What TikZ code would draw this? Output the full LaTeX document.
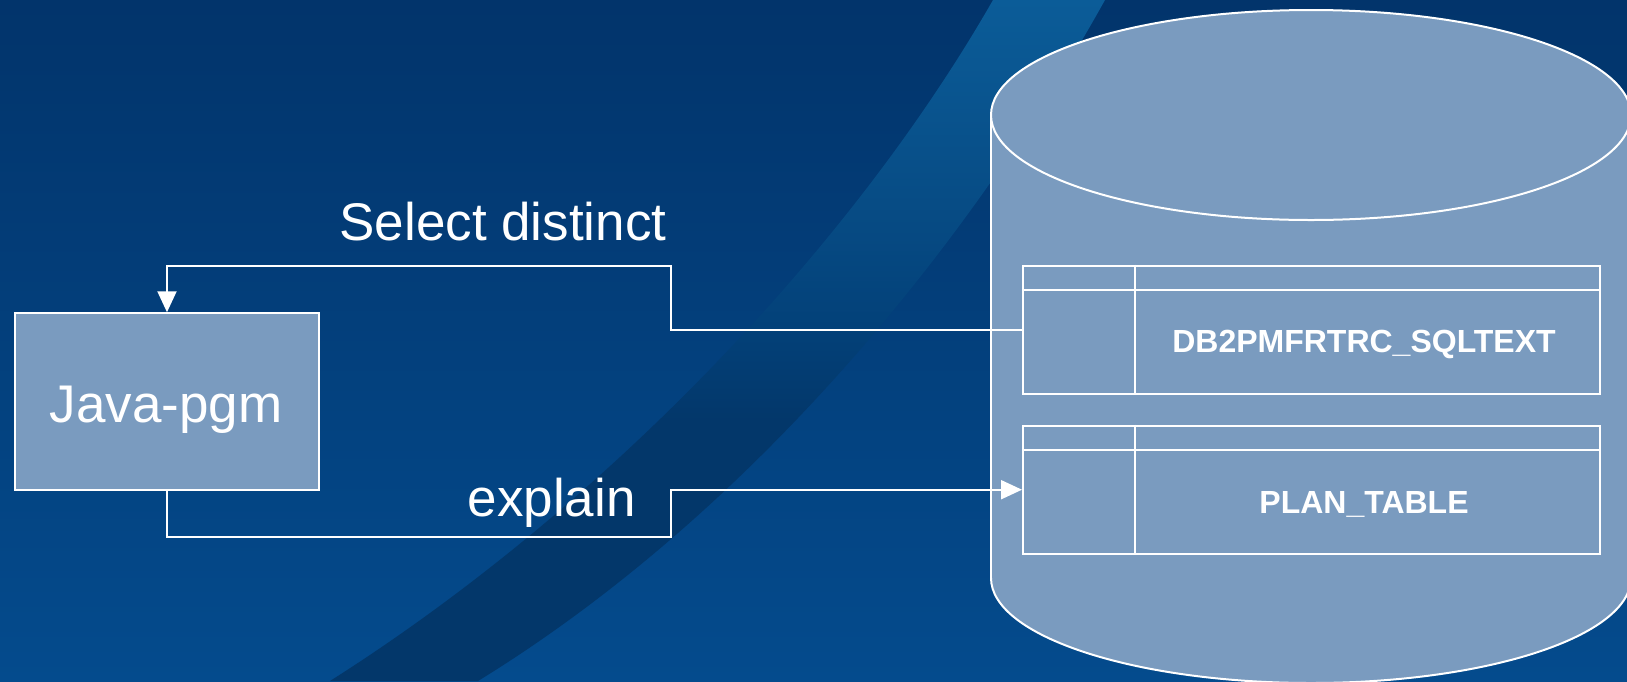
\documentclass[tikz,border=0pt]{standalone}
\usepackage{fontspec}
\setmainfont{Liberation Sans}
\usetikzlibrary{arrows.meta}
\definecolor{bgtop}{HTML}{02346B}
\definecolor{bgbot}{HTML}{044B8D}
\definecolor{ribtop}{HTML}{0B5C98}
\definecolor{ribupper}{HTML}{074C85}
\definecolor{ribmid}{HTML}{034179}
\definecolor{ribbot}{HTML}{03376A}
\definecolor{boxfill}{HTML}{7A9BBF}
\pgfdeclareverticalshading{ribbonshade}{100bp}{color(0bp)=(ribbot); color(25bp)=(ribbot); color(44bp)=(ribbot); color(51bp)=(ribmid); color(60bp)=(ribupper); color(75bp)=(ribtop); color(100bp)=(ribtop)}
\begin{document}
\begin{tikzpicture}[x=1pt,y=-1pt,
  outline/.style={draw=white, line width=2pt},
  pgmbox/.style={outline, fill=boxfill, minimum width=304.5pt, minimum height=176.5pt, inner sep=0pt},
  tablebox/.style={outline, minimum width=577pt, minimum height=128pt, inner sep=0pt},
  lbl/.style={text=white, font=\fontsize{53}{60}\selectfont, inner sep=0pt},
  tlbl/.style={text=white, font=\fontsize{32}{38}\selectfont\bfseries, inner sep=0pt},
  conn/.style={draw=white, line width=2pt},
  arr/.style={-{Triangle[length=21pt,width=19pt]}}
]
\useasboundingbox (0,0) rectangle (1627,681);
\begin{scope}
  \clip (0,0) rectangle (1627,681);
  % background
  \shade[top color=bgtop, bottom color=bgbot] (0,0) rectangle (1627,681);
  % swoosh ribbon
  \shade[shading=ribbonshade]
    (993,0) .. controls (850,250) and (600,510) .. (330,681)
    -- (478,681) .. controls (740,520) and (960,260) .. (1105,0) -- cycle;
  % cylinder
  \fill[boxfill] (991,115) rectangle (1631,578);
  \fill[boxfill] (1311,578) ellipse [x radius=320, y radius=105];
  \draw[outline, fill=boxfill] (1311,115) ellipse [x radius=320, y radius=105];
  \draw[outline] (991,115) -- (991,578);
  \draw[outline] (1631,115) -- (1631,578);
  \begin{scope}
    \clip (980,578) rectangle (1640,700);
    \draw[outline] (1311,578) ellipse [x radius=320, y radius=105];
  \end{scope}
\end{scope}

% tables
\node[tablebox] (t1) at (1311.5,329.7) {};
\draw[outline] ([yshift=-25.3pt]t1.north west) -- ([yshift=-25.3pt]t1.north east);
\draw[outline] ([xshift=113pt]t1.north west) -- ([xshift=113pt]t1.south west);
\node[tlbl, anchor=base] (t1l) at (1364,352.7) {DB2PMFRTRC\_SQLTEXT};

\node[tablebox] (t2) at (1311.5,489.7) {};
\draw[outline] ([yshift=-25.3pt]t2.north west) -- ([yshift=-25.3pt]t2.north east);
\draw[outline] ([xshift=113pt]t2.north west) -- ([xshift=113pt]t2.south west);
\node[tlbl, anchor=base] (t2l) at (1364,513.3) {PLAN\_TABLE};

% java program
\node[pgmbox] (java) at (167,401.5) {};
\node[lbl, anchor=base] (javal) at (166,422.7) {Java-pgm};

% labels
\node[lbl, anchor=base west] (sell) at (339.3,240) {Select distinct};
\node[lbl, anchor=base west] (expl) at (467.4,516) {explain};

% connectors
\coordinate (selbend) at (671,265.7);
\coordinate (expbend) at (671,537.3);
\draw[conn, arr] (t1.west) -| (selbend) -| (java.north);
\draw[conn, arr] (java.south) |- (expbend) |- (t2.west);
\end{tikzpicture}
\end{document}
